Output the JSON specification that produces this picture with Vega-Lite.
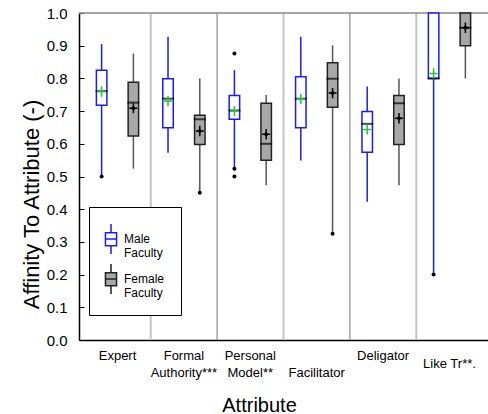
{
  "$schema": "https://vega.github.io/schema/vega-lite/v6.json",
  "width": 409,
  "height": 327,
  "autosize": {"type": "none"},
  "padding": {"left": 79, "top": 13, "right": 0, "bottom": 74},
  "background": "white",
  "config": {
    "font": "Liberation Sans",
    "view": {"stroke": null},
    "numberFormat": ".1f",
    "axis": {"grid": false, "labelColor": "black", "titleColor": "black", "titleFontWeight": "normal"},
    "axisY": {
      "domainColor": "black", "domainWidth": 1.5, "tickColor": "black", "tickSize": -5, "tickWidth": 1,
      "labelFontSize": 15, "labelPadding": 17, "tickCount": 10,
      "titleFontSize": 22, "titleX": -48, "titleY": 191, "titleBaseline": "middle"
    },
    "axisX": {
      "domainColor": "black", "domainWidth": 1.5, "ticks": false, "labelAngle": 0,
      "labelFontSize": 13, "labelBaseline": "middle", "labelLineHeight": 17,
      "titleFontSize": 20, "titleY": 71, "titleX": 180, "titleBaseline": "alphabetic"
    }
  },
  "datasets": {
    "stats": [
      {"attr": "Expert", "sex": "Male Faculty", "lo": 0.50, "q1": 0.718, "med": 0.761, "q3": 0.825, "hi": 0.905, "mean": 0.76},
      {"attr": "Expert", "sex": "Female Faculty", "lo": 0.524, "q1": 0.624, "med": 0.726, "q3": 0.788, "hi": 0.876, "mean": 0.709},
      {"attr": "Formal Authority***", "sex": "Male Faculty", "lo": 0.573, "q1": 0.649, "med": 0.738, "q3": 0.799, "hi": 0.927, "mean": 0.731},
      {"attr": "Formal Authority***", "sex": "Female Faculty", "lo": 0.45, "q1": 0.598, "med": 0.675, "q3": 0.687, "hi": 0.80, "mean": 0.639},
      {"attr": "Personal Model**", "sex": "Male Faculty", "lo": 0.524, "q1": 0.675, "med": 0.702, "q3": 0.748, "hi": 0.825, "mean": 0.70},
      {"attr": "Personal Model**", "sex": "Female Faculty", "lo": 0.473, "q1": 0.55, "med": 0.60, "q3": 0.724, "hi": 0.749, "mean": 0.629},
      {"attr": "Facilitator", "sex": "Male Faculty", "lo": 0.549, "q1": 0.649, "med": 0.738, "q3": 0.805, "hi": 0.927, "mean": 0.737},
      {"attr": "Facilitator", "sex": "Female Faculty", "lo": 0.325, "q1": 0.712, "med": 0.799, "q3": 0.848, "hi": 0.901, "mean": 0.755},
      {"attr": "Deligator", "sex": "Male Faculty", "lo": 0.423, "q1": 0.574, "med": 0.661, "q3": 0.699, "hi": 0.775, "mean": 0.644},
      {"attr": "Deligator", "sex": "Female Faculty", "lo": 0.473, "q1": 0.598, "med": 0.724, "q3": 0.748, "hi": 0.80, "mean": 0.678},
      {"attr": "Like Tr**.", "sex": "Male Faculty", "lo": 0.20, "q1": 0.80, "med": 0.80, "q3": 1.0, "hi": 1.0, "mean": 0.815},
      {"attr": "Like Tr**.", "sex": "Female Faculty", "lo": 0.80, "q1": 0.90, "med": 0.955, "q3": 1.0, "hi": 1.0, "mean": 0.955}
    ],
    "outliers": [
      {"attr": "Expert", "sex": "Male Faculty", "value": 0.50},
      {"attr": "Formal Authority***", "sex": "Female Faculty", "value": 0.45},
      {"attr": "Personal Model**", "sex": "Male Faculty", "value": 0.876},
      {"attr": "Personal Model**", "sex": "Male Faculty", "value": 0.524},
      {"attr": "Personal Model**", "sex": "Male Faculty", "value": 0.50},
      {"attr": "Facilitator", "sex": "Female Faculty", "value": 0.325},
      {"attr": "Like Tr**.", "sex": "Male Faculty", "value": 0.20}
    ],
    "sepLight": [{"attr": "Formal Authority***"}, {"attr": "Facilitator"}, {"attr": "Like Tr**."}],
    "sepDark": [{"attr": "Personal Model**"}, {"attr": "Deligator"}]
  },
  "layer": [
    {
      "data": {"name": "sepLight"},
      "mark": {"type": "rule", "color": "#c4c4c4", "strokeWidth": 2},
      "encoding": {
        "x": {"field": "attr", "type": "nominal", "bandPosition": 0, "title": "Attribute",
          "scale": {"domain": ["Expert", "Formal Authority***", "Personal Model**", "Facilitator", "Deligator", "Like Tr**."], "paddingInner": 0, "paddingOuter": 0.08},
          "axis": {
            "labelExpr": "datum.label == 'Expert' ? ['Expert',''] : datum.label == 'Formal Authority***' ? ['Formal','Authority***'] : datum.label == 'Personal Model**' ? ['Personal','Model**'] : datum.label == 'Facilitator' ? ['','Facilitator'] : datum.label == 'Deligator' ? ['Deligator',''] : datum.label",
            "labelPadding": {"condition": {"test": "datum.value == 'Like Tr**.'", "value": 23}, "value": 15}
          }}
      }
    },
    {
      "data": {"name": "sepDark"},
      "mark": {"type": "rule", "color": "#8c8c8c", "strokeWidth": 1.2},
      "encoding": {
        "x": {"field": "attr", "type": "nominal", "bandPosition": 0, "title": "Attribute"}
      }
    },
    {
      "data": {"values": [{}]},
      "mark": {"type": "rule", "color": "#888888", "strokeWidth": 1.5},
      "encoding": {"y": {"datum": 1, "type": "quantitative", "title": "Affinity To Attribute (-)", "scale": {"domain": [0, 1], "nice": false}}}
    },
    {
      "data": {"name": "stats"},
      "transform": [{"filter": "datum.sex == 'Male Faculty'"}],
      "mark": {"type": "rule", "color": "#1a1aff", "strokeWidth": 1.5},
      "encoding": {
        "x": {"field": "attr", "type": "nominal", "title": "Attribute"},
        "xOffset": {"field": "sex", "type": "nominal"},
        "y": {"field": "lo", "type": "quantitative", "title": "Affinity To Attribute (-)"},
        "y2": {"field": "hi"}
      }
    },
    {
      "data": {"name": "stats"},
      "transform": [{"filter": "datum.sex == 'Female Faculty'"}],
      "mark": {"type": "rule", "color": "#555555", "strokeWidth": 1.5},
      "encoding": {
        "x": {"field": "attr", "type": "nominal", "title": "Attribute"},
        "xOffset": {"field": "sex", "type": "nominal"},
        "y": {"field": "lo", "type": "quantitative", "title": "Affinity To Attribute (-)"},
        "y2": {"field": "hi"}
      }
    },
    {
      "data": {"name": "stats"},
      "mark": {"type": "bar", "strokeWidth": 1.5},
      "encoding": {
        "x": {"field": "attr", "type": "nominal", "title": "Attribute"},
        "xOffset": {"field": "sex", "type": "nominal", "scale": {"domain": ["Male Faculty", "Female Faculty"], "paddingInner": 0.67, "paddingOuter": 0.38}},
        "y": {"field": "q1", "type": "quantitative", "title": "Affinity To Attribute (-)"},
        "y2": {"field": "q3"},
        "fill": {"field": "sex", "type": "nominal",
          "scale": {"domain": ["Male Faculty", "Female Faculty"], "range": ["#ffffff", "#a8a8a8"]},
          "legend": {
            "orient": "none", "legendX": 10, "legendY": 194, "title": null,
            "symbolType": "M0,-1V-0.42M-0.37,-0.42H0.37V0.45H-0.37ZM0,0.45V1M-0.37,0H0.37",
            "symbolSize": 900, "symbolStrokeWidth": 1.5, "symbolOffset": -10,
            "labelExpr": "split(datum.label, ' ')", "labelFontSize": 12, "labelLineHeight": 14,
            "labelBaseline": "middle", "labelOffset": -3, "labelColor": "black", "labelLimit": 45,
            "padding": 16, "rowPadding": 2, "strokeColor": "black", "fillColor": "white"
          }},
        "stroke": {"field": "sex", "type": "nominal",
          "scale": {"domain": ["Male Faculty", "Female Faculty"], "range": ["#1a1aff", "#222222"]}}
      }
    },
    {
      "data": {"name": "stats"},
      "mark": {"type": "tick", "color": "black", "thickness": 2, "size": 12},
      "encoding": {
        "x": {"field": "attr", "type": "nominal", "title": "Attribute"},
        "xOffset": {"field": "sex", "type": "nominal"},
        "y": {"field": "med", "type": "quantitative", "title": "Affinity To Attribute (-)"}
      }
    },
    {
      "data": {"name": "stats"},
      "transform": [{"filter": "datum.sex == 'Male Faculty'"}],
      "mark": {"type": "point", "shape": "M-1,0H1M0,-1.3V1.3", "filled": false, "size": 64, "strokeWidth": 1.5, "color": "#22cc22", "opacity": 1},
      "encoding": {
        "x": {"field": "attr", "type": "nominal", "title": "Attribute"},
        "xOffset": {"field": "sex", "type": "nominal"},
        "y": {"field": "mean", "type": "quantitative", "title": "Affinity To Attribute (-)"}
      }
    },
    {
      "data": {"name": "stats"},
      "transform": [{"filter": "datum.sex == 'Female Faculty'"}],
      "mark": {"type": "point", "shape": "M-1,0H1M0,-1.3V1.3", "filled": false, "size": 64, "strokeWidth": 1.5, "color": "#000000", "opacity": 1},
      "encoding": {
        "x": {"field": "attr", "type": "nominal", "title": "Attribute"},
        "xOffset": {"field": "sex", "type": "nominal"},
        "y": {"field": "mean", "type": "quantitative", "title": "Affinity To Attribute (-)"}
      }
    },
    {
      "data": {"name": "stats"},
      "transform": [{"filter": "datum.sex == 'Female Faculty'"}],
      "mark": {"type": "point", "shape": "circle", "filled": true, "size": 14, "color": "#000000", "opacity": 1},
      "encoding": {
        "x": {"field": "attr", "type": "nominal", "title": "Attribute"},
        "xOffset": {"field": "sex", "type": "nominal"},
        "y": {"field": "mean", "type": "quantitative", "title": "Affinity To Attribute (-)"}
      }
    },
    {
      "data": {"name": "outliers"},
      "mark": {"type": "point", "shape": "circle", "filled": true, "size": 16, "color": "#000000", "opacity": 1},
      "encoding": {
        "x": {"field": "attr", "type": "nominal", "title": "Attribute"},
        "xOffset": {"field": "sex", "type": "nominal"},
        "y": {"field": "value", "type": "quantitative", "title": "Affinity To Attribute (-)"}
      }
    }
  ]
}
